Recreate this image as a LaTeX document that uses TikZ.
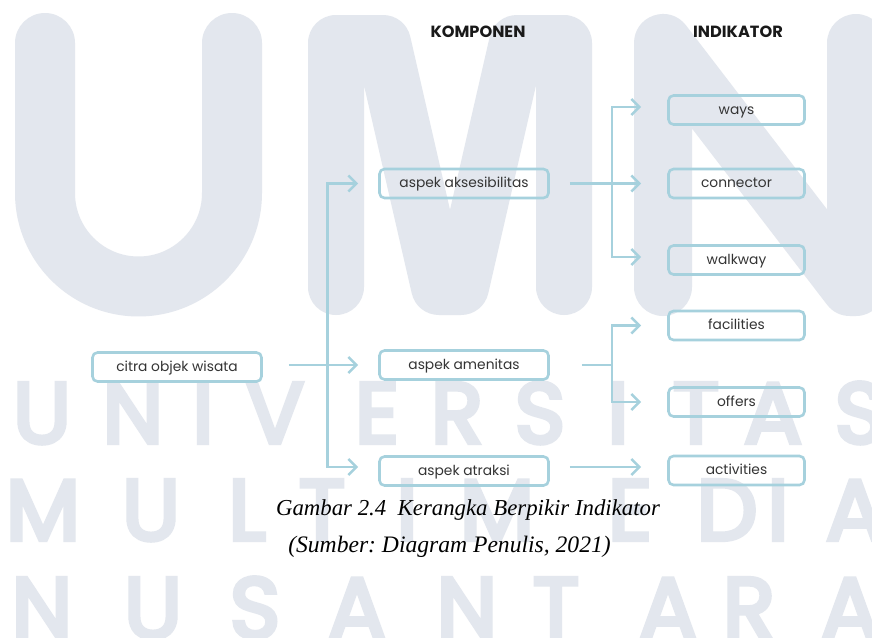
\documentclass[tikz,border=0pt]{standalone}
\usepackage{fontspec}
\setmainfont{Poppins}
\newfontfamily\capfont{Liberation Serif}
\newfontfamily\wmfont{Poppins}[FakeBold=5]
\usetikzlibrary{arrows.meta}
\definecolor{wm}{RGB}{227,231,238}
\definecolor{lb}{RGB}{166,209,221}
\definecolor{tx}{RGB}{52,52,52}
\frenchspacing
\begin{document}
\begin{tikzpicture}[x=1pt,y=-1pt,
  wmletter/.style={anchor=base, text=wm, inner sep=0pt, font=\wmfont\fontsize{86}{86}\selectfont},
  box/.style={draw=lb, line width=2.6pt, rounded corners=5pt, minimum height=29pt, inner sep=0pt,
     text=tx, text height=0.95em, text depth=0.15em, font=\fontsize{13.8}{16}\selectfont},
  comp/.style={box, minimum width=169pt},
  ind/.style={box, minimum width=136pt},
  hdr/.style={inner sep=0pt, text=black!90, font=\bfseries\fontsize{16.2}{18}\selectfont},
  captxt/.style={inner sep=0pt, anchor=base, text=black, font=\capfont\itshape\fontsize{22.8}{26}\selectfont},
  ln/.style={draw=lb, line width=2.6pt},
  arr/.style={ln, -{Straight Barb[length=8pt,width=16pt]}}]
\fill[white] (0,0) rectangle (872,637);
\useasboundingbox (0,0) rectangle (872,637);
% watermark
\begin{scope}[draw=wm, line cap=round, line join=round]
\draw[line width=60pt] (45,43) -- (45,193) .. controls (45,244.6) and (86.9,286.5) .. (138.5,286.5)
  .. controls (190.1,286.5) and (232,244.6) .. (232,193) -- (232,43);
\draw[line width=56pt] (336,287) -- (336,43) -- (383,43) -- (439,287) -- (461,287) -- (517,43) -- (564,43) -- (564,287);
\draw[line width=58pt] (663,287) -- (663,43) -- (850,287) -- (856,287) -- (856,43);
\end{scope}
\foreach \c/\x [count=\i] in {U/42,N/133,I/203,V/275,E/377,R/457,S/540,I/618,T/696,A/773,S/860}
  \node[wmletter] (wa\i) at (\x,443) {\c};
\foreach \c/\x [count=\i] in {M/43,U/151,L/247,T/322,I/407,M/497,E/630,D/727,I/778,A/855}
  \node[wmletter] (wb\i) at (\x,540) {\c};
\foreach \c/\x [count=\i] in {N/42,U/153,S/255,A/357,N/467,T/556,A/668,R/749,A/850}
  \node[wmletter] (wc\i) at (\x,638) {\c};
% headers
\node[hdr] (komp) at (478,32) {KOMPONEN};
\node[hdr] (indk) at (738,32) {INDIKATOR};
% boxes
\node[comp] (citra) at (177,367) {citra objek wisata};
\node[comp] (akses) at (464,183.5) {aspek aksesibilitas};
\node[comp] (amen) at (464,365) {aspek amenitas};
\node[comp] (atr) at (464,471) {aspek atraksi};
\node[ind] (ways) at (736.5,110) {ways};
\node[ind] (conn) at (736.5,183.5) {connector};
\node[ind] (walk) at (736.5,260) {walkway};
\node[ind] (fac) at (736.5,325.5) {facilities};
\node[ind] (off) at (736.5,402) {offers};
\node[ind] (act) at (736.5,470.5) {activities};
% connectors
\coordinate (j1) at (327.5,365);
\draw[arr, shorten <=26pt, shorten >=20pt] (citra.east |- amen.west) -- (amen.west);
\draw[arr, shorten >=20pt] (j1) |- (akses.west);
\draw[arr, shorten >=20pt] (j1) |- ([yshift=4pt]atr.west);
\coordinate (j2) at (612,183.5);
\draw[arr, shorten <=20pt, shorten >=26pt] (akses.east) -- (conn.west);
\draw[arr, shorten >=26pt] (j2) |- ([yshift=3pt]ways.west);
\draw[arr, shorten >=26pt] (j2) |- ([yshift=3pt]walk.west);
\coordinate (j3) at (612,365);
\draw[ln, shorten <=32pt] (amen.east) -- (j3);
\draw[arr, shorten >=26pt] (j3) |- (fac.west);
\draw[arr, shorten >=26pt] (j3) |- (off.west);
\draw[arr, shorten <=20pt, shorten >=26pt] ([yshift=4pt]atr.east) -- ([yshift=4pt]atr.east -| act.west);
% caption
\node[captxt] (cap1) at (468,515) {Gambar 2.4\ \ Kerangka Berpikir Indikator};
\node[captxt, font=\capfont\itshape\fontsize{23.6}{26}\selectfont] (cap2) at (449.5,552) {(Sumber: Diagram Penulis, 2021)};
\end{tikzpicture}
\end{document}
